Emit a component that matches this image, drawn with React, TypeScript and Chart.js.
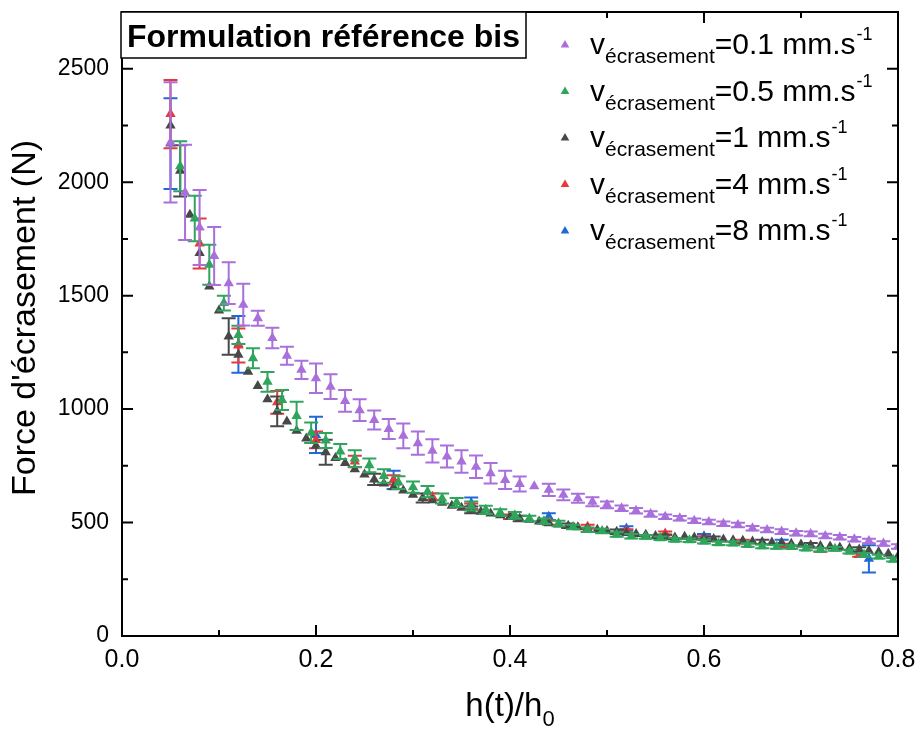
import React, { useEffect, useRef } from 'react';
import { Chart, registerables } from 'chart.js';

Chart.register(...registerables);

const FONT = "'Liberation Sans', Arial, Helvetica, sans-serif";

// ---- axis ticks ----
const xTicks = [0, 0.2, 0.4, 0.6, 0.8];
const xMinorTicks = [0.1, 0.3, 0.5, 0.7];
const yTicks = [0, 500, 1000, 1500, 2000, 2500];
const yMinorTicks = [250, 750, 1250, 1750, 2250];

// ---- texts ----
const titleText = 'Formulation référence bis';
const yTitle = "Force d'écrasement (N)";
const xTitleMain = 'h(t)/h';
const xTitleSub = '0';
const speedLabels = ['0.1', '0.5', '1', '4', '8'];
const seriesColors = ['#a970dc', '#2fa55c', '#484848', '#e8383c', '#2168d8'];

// ---- v = 0.1 mm/s (purple) ----
const xV01 = [0.05, 0.065, 0.08, 0.095, 0.11, 0.125, 0.14, 0.155, 0.17, 0.185, 0.2, 0.215, 0.23, 0.245, 0.26, 0.275, 0.29, 0.305, 0.32, 0.335, 0.35, 0.365, 0.38, 0.395, 0.41, 0.425, 0.44, 0.455, 0.47, 0.485, 0.5, 0.515, 0.53, 0.545, 0.56, 0.575, 0.59, 0.605, 0.62, 0.635, 0.65, 0.665, 0.68, 0.695, 0.71, 0.725, 0.74, 0.755, 0.77, 0.785, 0.8];
const yV01 = [2175, 1955, 1800, 1675, 1555, 1460, 1400, 1313, 1235, 1173, 1136, 1099, 1036, 995, 952, 912, 882, 850, 816, 791, 769, 746, 717, 688, 670, 660, 644, 622, 607, 592, 578, 563, 552, 538, 526, 519, 508, 502, 495, 489, 475, 467, 460, 453, 450, 441, 435, 426, 419, 408, 394];
const eV01 = [265, 210, 165, 128, 92, 92, 33, 45, 40, 40, 65, 55, 48, 48, 42, 44, 55, 51, 51, 48, 50, 50, 45, 40, 33, 0, 27, 24, 20, 20, 15, 12, 12, 12, 10, 10, 10, 10, 10, 10, 10, 10, 10, 10, 10, 10, 10, 10, 10, 10, 10];

// ---- v = 0.5 mm/s (green) ----
const xV05 = [0.06, 0.075, 0.09, 0.105, 0.12, 0.135, 0.15, 0.165, 0.18, 0.195, 0.21, 0.225, 0.24, 0.255, 0.27, 0.285, 0.3, 0.315, 0.33, 0.345, 0.36, 0.375, 0.39, 0.405, 0.42, 0.435, 0.45, 0.465, 0.48, 0.495, 0.51, 0.525, 0.54, 0.555, 0.57, 0.585, 0.6, 0.615, 0.63, 0.645, 0.66, 0.675, 0.69, 0.705, 0.72, 0.735, 0.75, 0.765, 0.78, 0.795];
const yV05 = [2070, 1840, 1636, 1467, 1327, 1224, 1120, 1040, 970, 896, 862, 813, 782, 752, 705, 676, 656, 636, 606, 588, 573, 556, 544, 532, 518, 506, 496, 480, 468, 463, 447, 440, 437, 431, 424, 422, 416, 409, 408, 401, 395, 393, 392, 386, 380, 384, 372, 358, 350, 336];
const eV05 = [110, 100, 88, 33, 40, 44, 44, 44, 62, 45, 33, 33, 37, 30, 30, 28, 25, 25, 22, 20, 20, 18, 15, 15, 12, 12, 12, 10, 10, 10, 10, 10, 8, 8, 8, 8, 8, 8, 8, 8, 8, 8, 8, 8, 8, 8, 8, 8, 8, 8];

// ---- v = 1 mm/s (dark grey) ----
const xV1 = [0.05, 0.06, 0.07, 0.08, 0.09, 0.1, 0.11, 0.12, 0.13, 0.14, 0.15, 0.16, 0.17, 0.18, 0.19, 0.2, 0.21, 0.22, 0.23, 0.24, 0.25, 0.26, 0.27, 0.28, 0.29, 0.3, 0.31, 0.32, 0.33, 0.34, 0.35, 0.36, 0.37, 0.38, 0.39, 0.4, 0.41, 0.42, 0.43, 0.44, 0.45, 0.46, 0.47, 0.48, 0.49, 0.5, 0.51, 0.52, 0.53, 0.54, 0.55, 0.56, 0.57, 0.58, 0.59, 0.6, 0.61, 0.62, 0.63, 0.64, 0.65, 0.66, 0.67, 0.68, 0.69, 0.7, 0.71, 0.72, 0.73, 0.74, 0.75, 0.76, 0.77, 0.78, 0.79, 0.8];
const yV1 = [2250, 2050, 1856, 1688, 1540, 1435, 1320, 1240, 1165, 1102, 1043, 990, 945, 905, 870, 838, 810, 784, 762, 735, 712, 690, 672, 655, 641, 622, 608, 598, 587, 574, 565, 556, 548, 540, 532, 526, 518, 512, 505, 497, 491, 486, 479, 474, 468, 463, 459, 454, 449, 446, 441, 437, 434, 437, 434, 431, 428, 425, 422, 420, 417, 414, 412, 409, 406, 403, 400, 397, 394, 390, 386, 381, 376, 370, 362, 352];
const eV1 = [0, 113, 0, 0, 0, 0, 80, 0, 0, 0, 0, 66, 0, 0, 0, 0, 55, 0, 0, 0, 0, 25, 0, 0, 0, 0, 20, 0, 0, 0, 0, 15, 0, 0, 0, 0, 12, 0, 0, 0, 0, 10, 0, 0, 0, 0, 10, 0, 0, 0, 0, 10, 0, 0, 0, 0, 10, 0, 0, 0, 0, 10, 0, 0, 0, 0, 10, 0, 0, 0, 0, 10, 0, 0, 0, 0];

// ---- v = 4 mm/s (red) ----
const xV4 = [0.05, 0.08, 0.12, 0.16, 0.2, 0.24, 0.28, 0.32, 0.36, 0.4, 0.44, 0.48, 0.52, 0.56, 0.6, 0.64, 0.68, 0.72, 0.76];
const yV4 = [2300, 1730, 1280, 1030, 864, 769, 688, 614, 572, 526, 500, 482, 462, 452, 432, 416, 398, 379, 357];
const eV4 = [150, 110, 75, 50, 37, 25, 20, 15, 12, 10, 10, 8, 8, 8, 8, 8, 8, 8, 8];

// ---- v = 8 mm/s (blue) ----
const xV8 = [0.05, 0.12, 0.2, 0.28, 0.36, 0.44, 0.52, 0.6, 0.68, 0.77];
const yV8 = [2170, 1285, 886, 688, 585, 526, 474, 440, 412, 340];
const eV8 = [200, 125, 80, 40, 25, 15, 10, 10, 12, 60];

const seriesX = [xV01, xV05, xV1, xV4, xV8];
const seriesY = [yV01, yV05, yV1, yV4, yV8];
const seriesE = [eV01, eV05, eV1, eV4, eV8];

function triangle(ctx: CanvasRenderingContext2D, x: number, y: number, r: number, color: string) {
  const a = (2 * Math.PI) / 3;
  ctx.beginPath();
  ctx.moveTo(x, y - r);
  ctx.lineTo(x + Math.sin(a) * r, y - Math.cos(a) * r);
  ctx.lineTo(x + Math.sin(2 * a) * r, y - Math.cos(2 * a) * r);
  ctx.closePath();
  ctx.fillStyle = color;
  ctx.fill();
}

const errorBarPlugin = {
  id: 'errorBars',
  beforeDatasetDraw(chart: any, args: any) {
    const ds = chart.data.datasets[args.index];
    const errs = ds.errors as number[] | undefined;
    if (!errs) return;
    const { ctx, chartArea } = chart;
    const xs = chart.scales.x;
    const ys = chart.scales.y;
    ctx.save();
    ctx.beginPath();
    ctx.rect(chartArea.left, chartArea.top, chartArea.right - chartArea.left, chartArea.bottom - chartArea.top);
    ctx.clip();
    ctx.strokeStyle = ds.borderColor;
    ctx.lineWidth = 2;
    const cap = 7;
    ds.data.forEach((p: any, i: number) => {
      const e = errs[i];
      if (!e) return;
      const px = xs.getPixelForValue(p.x);
      const y1 = ys.getPixelForValue(p.y + e);
      const y2 = ys.getPixelForValue(p.y - e);
      ctx.beginPath();
      ctx.moveTo(px, y1);
      ctx.lineTo(px, y2);
      ctx.moveTo(px - cap, y1);
      ctx.lineTo(px + cap, y1);
      ctx.moveTo(px - cap, y2);
      ctx.lineTo(px + cap, y2);
      ctx.stroke();
    });
    ctx.restore();
  },
};

const decorPlugin = {
  id: 'decor',
  afterDraw(chart: any) {
    const { ctx, chartArea } = chart;
    const { left, right, top, bottom } = chartArea;
    const xs = chart.scales.x;
    const ys = chart.scales.y;
    ctx.save();
    // frame
    ctx.strokeStyle = '#000';
    ctx.lineWidth = 2;
    ctx.strokeRect(left, top, right - left, bottom - top);
    // inward ticks on all four sides
    const major = 11;
    const minor = 6;
    ctx.beginPath();
    const xTick = (v: number, len: number) => {
      const px = xs.getPixelForValue(v);
      ctx.moveTo(px, bottom);
      ctx.lineTo(px, bottom - len);
      ctx.moveTo(px, top);
      ctx.lineTo(px, top + len);
    };
    const yTick = (v: number, len: number) => {
      const py = ys.getPixelForValue(v);
      ctx.moveTo(left, py);
      ctx.lineTo(left + len, py);
      ctx.moveTo(right, py);
      ctx.lineTo(right - len, py);
    };
    xTicks.forEach((v) => xTick(v, major));
    xMinorTicks.forEach((v) => xTick(v, minor));
    yTicks.forEach((v) => yTick(v, major));
    yMinorTicks.forEach((v) => yTick(v, minor));
    ctx.stroke();

    // title box
    ctx.fillStyle = '#fff';
    ctx.fillRect(left - 1, top, 405, 46);
    ctx.lineWidth = 1.5;
    ctx.strokeRect(left - 1, top, 405, 46);
    ctx.fillStyle = '#000';
    ctx.font = `bold 32px ${FONT}`;
    ctx.textAlign = 'left';
    ctx.textBaseline = 'alphabetic';
    ctx.fillText(titleText, left + 5, top + 35);

    // legend
    speedLabels.forEach((lab, i) => {
      const base = 54 + i * 46.5;
      triangle(ctx, 565, base - 9, 5, seriesColors[i]);
      let x = 590;
      ctx.fillStyle = '#000';
      ctx.font = `30px ${FONT}`;
      ctx.fillText('v', x, base);
      x += ctx.measureText('v').width;
      ctx.font = `21px ${FONT}`;
      ctx.fillText('écrasement', x, base + 9);
      x += ctx.measureText('écrasement').width;
      ctx.font = `30px ${FONT}`;
      const main = `=${lab} mm.s`;
      ctx.fillText(main, x, base);
      x += ctx.measureText(main).width;
      ctx.font = `18px ${FONT}`;
      ctx.fillText('-1', x + 1, base - 14);
    });

    // y title
    ctx.save();
    ctx.translate(26, (top + bottom) / 2 - 6);
    ctx.rotate(-Math.PI / 2);
    ctx.textAlign = 'center';
    ctx.textBaseline = 'middle';
    ctx.font = `34px ${FONT}`;
    ctx.fillText(yTitle, 0, 0);
    ctx.restore();

    // x title
    ctx.font = `33px ${FONT}`;
    const wMain = ctx.measureText(xTitleMain).width;
    ctx.font = `22px ${FONT}`;
    const wSub = ctx.measureText(xTitleSub).width;
    const cx = (left + right) / 2;
    const sx = cx - (wMain + wSub) / 2;
    ctx.textAlign = 'left';
    ctx.textBaseline = 'alphabetic';
    ctx.font = `33px ${FONT}`;
    ctx.fillText(xTitleMain, sx, 716);
    ctx.font = `22px ${FONT}`;
    ctx.fillText(xTitleSub, sx + wMain, 726);
    ctx.restore();
  },
};

const zeroPad = (s: any) => {
  s.paddingTop = 0;
  s.paddingBottom = 0;
  s.paddingLeft = 0;
  s.paddingRight = 0;
};

export default function App() {
  const ref = useRef<HTMLCanvasElement | null>(null);
  useEffect(() => {
    document.body.style.margin = '0';
    if (!ref.current) return;
    const datasets = speedLabels.map((lab, i) => ({
      label: `v=${lab} mm.s-1`,
      data: seriesX[i].map((x, j) => ({ x, y: seriesY[i][j] })),
      errors: seriesE[i],
      backgroundColor: seriesColors[i],
      borderColor: seriesColors[i],
      borderWidth: 0,
      pointStyle: 'triangle',
      pointRadius: 6,
      pointHoverRadius: 6,
      showLine: false,
    }));
    const chart = new Chart(ref.current, {
      type: 'scatter',
      data: { datasets } as any,
      plugins: [errorBarPlugin, decorPlugin],
      options: {
        animation: false,
        responsive: false,
        devicePixelRatio: 1,
        layout: { padding: { top: 12, right: 21, left: 0, bottom: 0 } },
        plugins: { legend: { display: false }, tooltip: { enabled: false }, title: { display: false } },
        scales: {
          x: {
            type: 'linear',
            min: 0,
            max: 0.8,
            afterBuildTicks: (s: any) => {
              s.ticks = xTicks.map((v) => ({ value: v }));
            },
            afterFit: (s: any) => {
              s.height = 93;
              zeroPad(s);
            },
            ticks: {
              color: '#000',
              font: { family: FONT, size: 25 },
              padding: 9,
              maxRotation: 0,
              autoSkip: false,
              callback: (v: any) => Number(v).toFixed(1),
            },
            grid: { display: false, drawTicks: false },
            border: { display: false },
          },
          y: {
            type: 'linear',
            min: 0,
            max: 2750,
            afterBuildTicks: (s: any) => {
              s.ticks = yTicks.map((v) => ({ value: v }));
            },
            afterFit: (s: any) => {
              s.width = 122;
              zeroPad(s);
            },
            ticks: {
              color: '#000',
              font: { family: FONT, size: 23 },
              padding: 13,
              autoSkip: false,
              callback: (v: any) => String(v),
            },
            grid: { display: false, drawTicks: false },
            border: { display: false },
          },
        },
      } as any,
    });
    return () => chart.destroy();
  }, []);
  return (
    <div style={{ width: 919, height: 729 }}>
      <canvas ref={ref} width={919} height={729} />
    </div>
  );
}
